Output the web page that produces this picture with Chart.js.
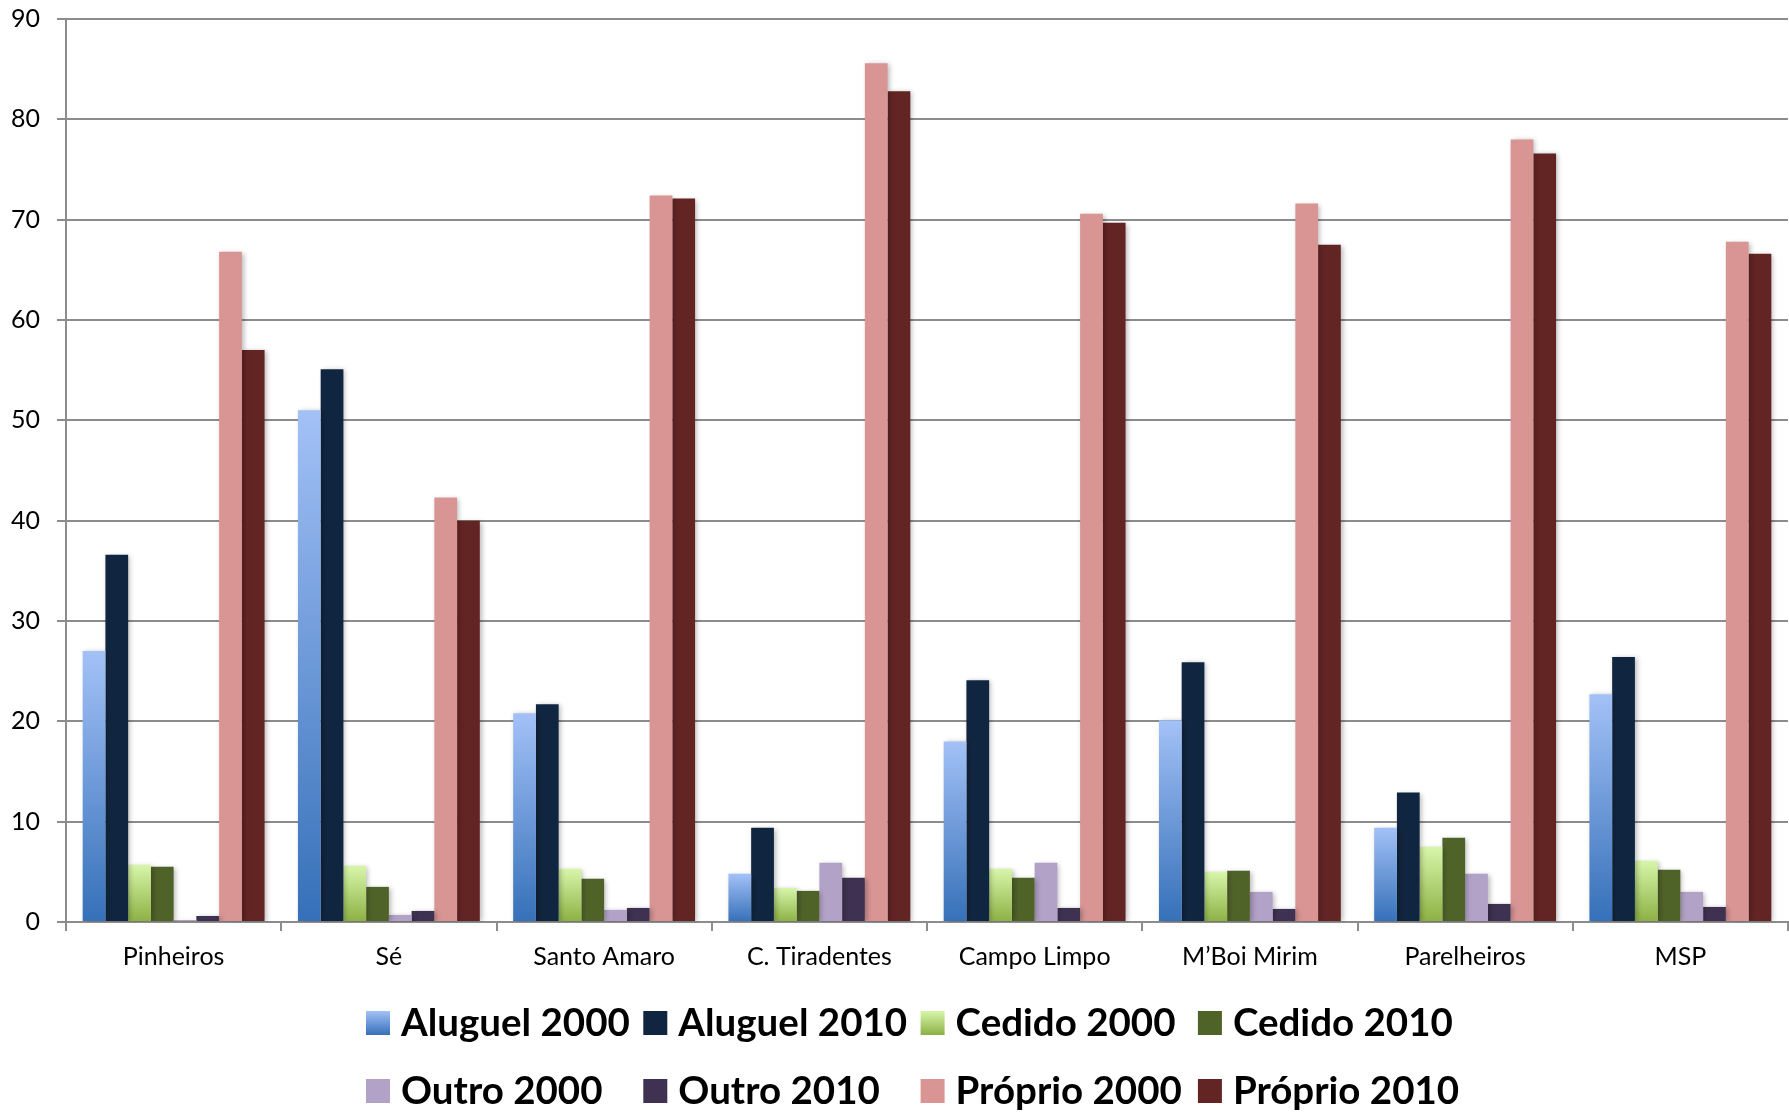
<!DOCTYPE html>
<html>
<head>
<meta charset="utf-8">
<script src="https://cdn.jsdelivr.net/npm/chart.js@4/dist/chart.umd.min.js"></script>
<style>
  html, body { margin: 0; padding: 0; background: #ffffff; }
  #wrap { width: 1789px; height: 1112px; position: relative; }
</style>
</head>
<body>
<div id="wrap"><canvas id="c" width="1789" height="1112"></canvas></div>
<script>
const categories = ['Pinheiros', 'Sé', 'Santo Amaro', 'C. Tiradentes', 'Campo Limpo', 'M’Boi Mirim', 'Parelheiros', 'MSP'];
const yTicks = [0, 10, 20, 30, 40, 50, 60, 70, 80, 90];

const aluguel2000  = [27.0, 51.0, 20.8, 4.8, 18.0, 20.1, 9.4, 22.7];
const aluguel2010  = [36.6, 55.1, 21.7, 9.4, 24.1, 25.9, 12.9, 26.4];
const cedido2000   = [5.7, 5.6, 5.3, 3.4, 5.3, 5.0, 7.5, 6.1];
const cedido2010   = [5.5, 3.5, 4.3, 3.1, 4.4, 5.1, 8.4, 5.2];
const outro2000    = [0.2, 0.7, 1.2, 5.9, 5.9, 3.0, 4.8, 3.0];
const outro2010    = [0.6, 1.1, 1.4, 4.4, 1.4, 1.3, 1.8, 1.5];
const proprio2000  = [66.8, 42.3, 72.4, 85.6, 70.6, 71.6, 78.0, 67.8];
const proprio2010  = [57.0, 40.0, 72.1, 82.8, 69.7, 67.5, 76.6, 66.6];

const seriesNames = ['Aluguel 2000', 'Aluguel 2010', 'Cedido 2000', 'Cedido 2010', 'Outro 2000', 'Outro 2010', 'Próprio 2000', 'Próprio 2010'];
const seriesData = [aluguel2000, aluguel2010, cedido2000, cedido2010, outro2000, outro2010, proprio2000, proprio2010];

// colour styles: [top, bottom] for gradients, single colour otherwise
const seriesStyles = [
  ['#a3c1f7', '#3570b8'],
  ['#10253f'],
  ['#d8f6aa', '#8cb043'],
  ['#4f6228'],
  ['#b3a2c7'],
  ['#3f3151'],
  ['#d99594'],
  ['#632523']
];

function barFill(style) {
  if (style.length === 1) return style[0];
  return (c) => {
    const chart = c.chart;
    const area = chart.chartArea;
    if (!area || c.type !== 'data' || !chart.scales.y) return style[1];
    const y = chart.scales.y;
    const v = c.raw;
    const yTop = y.getPixelForValue(v);
    const yBot = y.getPixelForValue(0);
    if (!isFinite(yTop) || !isFinite(yBot) || Math.abs(yBot - yTop) < 1) return style[1];
    const g = chart.ctx.createLinearGradient(0, yTop, 0, yBot);
    g.addColorStop(0, style[0]);
    g.addColorStop(1, style[1]);
    return g;
  };
}

const datasets = seriesNames.map((name, i) => ({
  label: name,
  data: seriesData[i],
  backgroundColor: barFill(seriesStyles[i]),
  borderWidth: 0,
  categoryPercentage: 0.845,
  barPercentage: 1.0
}));

const shadowPlugin = {
  id: 'barShadow',
  beforeDatasetsDraw(chart) {
    const ctx = chart.ctx;
    ctx.save();
    ctx.shadowColor = 'rgba(0,0,0,0.28)';
    ctx.shadowBlur = 5;
    ctx.shadowOffsetX = 2;
    ctx.shadowOffsetY = 1;
  },
  afterDatasetsDraw(chart) {
    chart.ctx.restore();
  }
};

const gridLegend = {
  id: 'gridLegend',
  afterDraw(chart, args, opts) {
    const ctx = chart.ctx;
    ctx.save();
    ctx.font = 'bold ' + opts.fontSize + 'px Lato, "Open Sans", sans-serif';
    ctx.textBaseline = 'middle';
    ctx.textAlign = 'left';
    chart.data.datasets.forEach((ds, i) => {
      const col = i % opts.columns;
      const row = Math.floor(i / opts.columns);
      const x = opts.left + col * opts.colWidth;
      const yc = opts.rowY[row];
      const st = seriesStyles[i];
      const b = opts.box;
      if (st.length > 1) {
        const g = ctx.createLinearGradient(0, yc - b / 2, 0, yc + b / 2);
        g.addColorStop(0, st[0]);
        g.addColorStop(1, st[1]);
        ctx.fillStyle = g;
      } else {
        ctx.fillStyle = st[0];
      }
      ctx.fillRect(x, yc - b / 2, b, b);
      ctx.fillStyle = '#000000';
      ctx.fillText(ds.label, x + b + opts.gap, yc + 1);
    });
    ctx.restore();
  }
};

const gridColor = '#8c8c8c';

new Chart(document.getElementById('c'), {
  type: 'bar',
  data: { labels: categories, datasets: datasets },
  plugins: [shadowPlugin, gridLegend],
  options: {
    responsive: false,
    devicePixelRatio: 1,
    animation: false,
    layout: { padding: { left: 0, right: 1, top: 19, bottom: 130 } },
    plugins: {
      legend: { display: false },
      tooltip: { enabled: false },
      gridLegend: { left: 366, colWidth: 277.3, columns: 4, rowY: [1023, 1091], box: 24, gap: 11, fontSize: 38.5 }
    },
    scales: {
      x: {
        offset: true,
        grid: { display: true, drawOnChartArea: false, drawTicks: true, tickLength: 9, color: gridColor, lineWidth: 2, offset: true },
        border: { display: true, color: gridColor, width: 2 },
        ticks: { color: '#000000', font: { family: 'Lato, "Open Sans", sans-serif', size: 25 }, padding: 10.5, maxRotation: 0, autoSkip: false }
      },
      y: {
        min: 0,
        max: 90,
        afterBuildTicks(axis) { axis.ticks = yTicks.map(v => ({ value: v })); },
        afterFit(axis) { axis.width = 66; axis.paddingTop = 0; axis.paddingBottom = 0; },
        grid: { color: gridColor, lineWidth: 2, tickLength: 9, drawTicks: true },
        border: { display: true, color: gridColor, width: 2 },
        ticks: { color: '#000000', font: { family: 'Lato, "Open Sans", sans-serif', size: 25 }, padding: 17 }
      }
    }
  }
});
</script>
</body>
</html>
